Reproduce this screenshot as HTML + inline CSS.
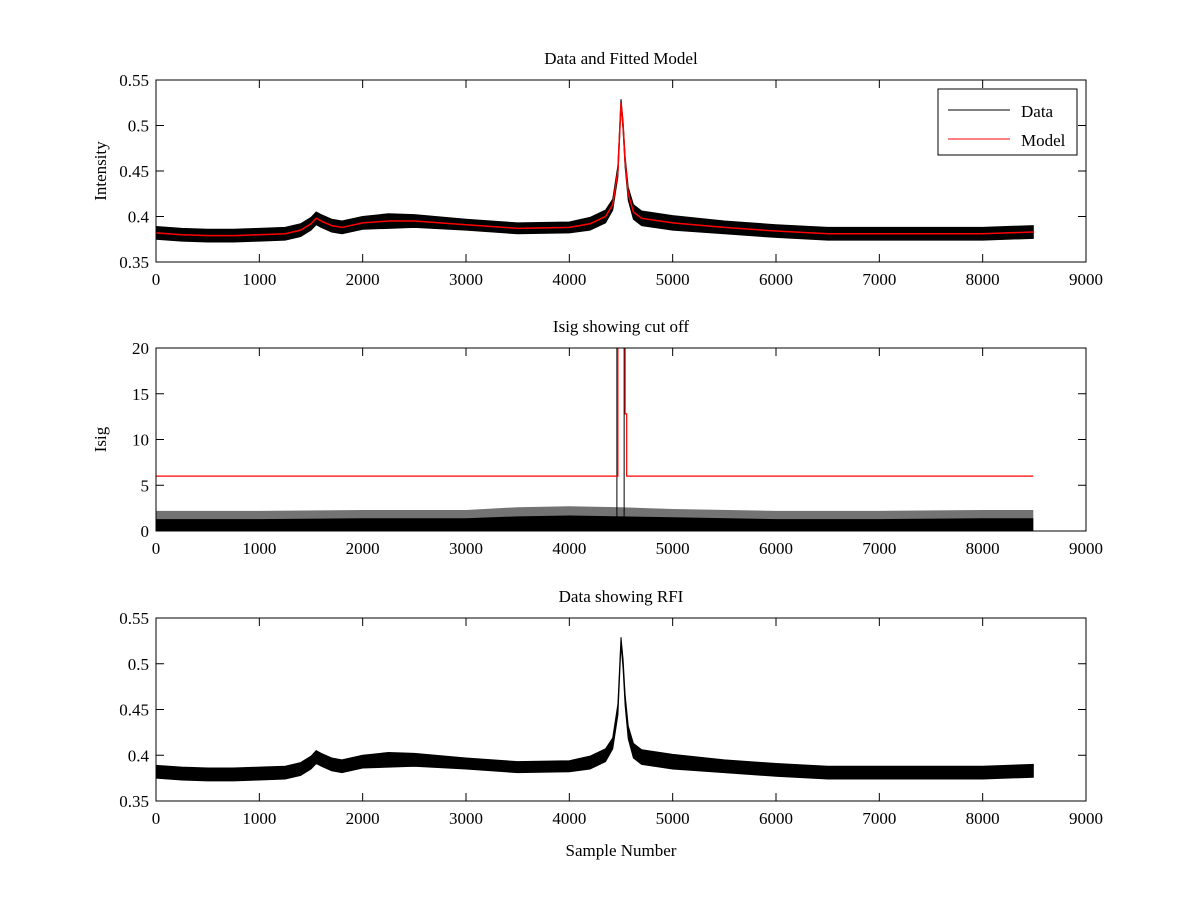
<!DOCTYPE html>
<html><head><meta charset="utf-8"><style>
body{margin:0;background:#fff;}
svg text{font-family:"Liberation Serif",serif;font-size:17px;fill:#000;}
</style></head><body>
<svg id="fig" width="1200" height="900" xmlns="http://www.w3.org/2000/svg">
<rect width="1200" height="900" fill="#fff"/>
</svg>
<script>
const xs=[0,250,500,750,1000,1250,1400,1500,1550,1600,1700,1800,2000,2250,2500,3000,3500,4000,4200,4350,4420,4470,4500,4520,4540,4570,4620,4700,5000,5500,6000,6500,7000,7500,8000,8490];
const model=[0.382,0.380,0.379,0.379,0.380,0.381,0.385,0.392,0.398,0.395,0.390,0.388,0.393,0.395,0.395,0.391,0.387,0.388,0.392,0.400,0.413,0.45,0.525,0.50,0.46,0.425,0.405,0.398,0.393,0.388,0.384,0.381,0.381,0.381,0.381,0.383];
const halfW=[0.007,0.007,0.007,0.007,0.007,0.007,0.007,0.007,0.007,0.007,0.007,0.007,0.007,0.008,0.007,0.006,0.006,0.006,0.007,0.007,0.006,0.006,0.004,0.005,0.006,0.007,0.008,0.008,0.008,0.007,0.007,0.007,0.007,0.007,0.007,0.007];
const isigX=[0,1000,2000,3000,3500,4000,4500,5000,6000,7000,8000,8490];
const isigUpper=[2.2,2.2,2.3,2.3,2.6,2.7,2.6,2.4,2.2,2.2,2.3,2.3];
const isigCore=[1.3,1.3,1.4,1.4,1.6,1.7,1.6,1.5,1.3,1.3,1.4,1.4];
const cutX=[0,4470,4470,4540,4540,4555,4555,8490];
const cutY=[6,6,25,25,12.8,12.8,6,6];
const xTicks=[0,1000,2000,3000,4000,5000,6000,7000,8000,9000];
const yTicksI=[0.35,0.4,0.45,0.5,0.55];
const yTicksS=[0,5,10,15,20];

const svg=document.getElementById('fig');
const NS='http://www.w3.org/2000/svg';
function mk(t,a,p){const e=document.createElementNS(NS,t);for(const k in a)e.setAttribute(k,a[k]);(p||svg).appendChild(e);return e;}
const X0=156,X1=1086;
const sx=v=>X0+(v/9000)*(X1-X0);

function axes(name,top,bot,ymin,ymax,yt,title,ylab,fmt){
  const g=mk('g',{});
  
  
  const sy=v=>bot-(v-ymin)/(ymax-ymin)*(bot-top);
  const cid='c'+name;
  const cp=mk('clipPath',{id:cid},g);mk('rect',{x:X0,y:top,width:X1-X0,height:bot-top},cp);
  const plot=mk('g',{'clip-path':'url(#'+cid+')'},g);
  mk('rect',{x:X0,y:top,width:X1-X0,height:bot-top,fill:'none',stroke:'#000','stroke-width':1},g);
  xTicks.forEach(v=>{const x=sx(v);
    mk('line',{x1:x,y1:bot,x2:x,y2:bot-8,stroke:'#000'},g);mk('line',{x1:x,y1:top,x2:x,y2:top+8,stroke:'#000'},g);
    const t=mk('text',{x:x,y:bot+23,'text-anchor':'middle'},g);t.textContent=v;
    
    });
  yt.forEach(v=>{const y=sy(v);
    mk('line',{x1:X0,y1:y,x2:X0+8,y2:y,stroke:'#000'},g);mk('line',{x1:X1,y1:y,x2:X1-8,y2:y,stroke:'#000'},g);
    const t=mk('text',{x:X0-7,y:y+6,'text-anchor':'end'},g);t.textContent=fmt(v);
    
    });
  const tt=mk('text',{x:(X0+X1)/2,y:top-16,'text-anchor':'middle'},g);tt.textContent=title;
  
  
  const yl=mk('text',{x:0,y:0,'text-anchor':'middle',transform:`translate(${X0-50},${(top+bot)/2}) rotate(-90)`},g);yl.textContent=ylab;
  
  
  return {plot,sy};
}
function band(plot,sy,name){
  let up='',lo='';
  xs.forEach((v,i)=>{up+=(i?'L':'M')+sx(v)+','+sy(model[i]+halfW[i]);});
  for(let i=xs.length-1;i>=0;i--){lo+='L'+sx(xs[i])+','+sy(model[i]-halfW[i]);}
  const p=mk('path',{d:up+lo+'Z',fill:'#000',stroke:'#000','stroke-width':1},plot);
  
  
}
const fmt2=v=>v===0.4?'0.4':v===0.5?'0.5':v.toFixed(2);
const a1=axes('data-model-axes',80,262,0.35,0.55,yTicksI,'Data and Fitted Model','Intensity',fmt2);
band(a1.plot,a1.sy,'data-series');
let d='';xs.forEach((v,i)=>{d+=(i?'L':'M')+sx(v)+','+a1.sy(model[i]);});
const ml=mk('path',{d:d,fill:'none',stroke:'#f00','stroke-width':1.5},a1.plot);


const lg=mk('g',{});


mk('rect',{x:938,y:89,width:139,height:66,fill:'#fff',stroke:'#000'},lg);
mk('line',{x1:948,y1:110,x2:1010,y2:110,stroke:'#000'},lg);
mk('line',{x1:948,y1:139,x2:1010,y2:139,stroke:'#f00'},lg);
const l1=mk('text',{x:1021,y:117},lg);l1.textContent='Data';


const l2=mk('text',{x:1021,y:146},lg);l2.textContent='Model';


const a2=axes('isig-axes',348,531,0,20,yTicksS,'Isig showing cut off','Isig',v=>String(v));
let u='';isigX.forEach((v,i)=>{u+=(i?'L':'M')+sx(v)+','+a2.sy(isigUpper[i]);});
u+='L'+sx(8490)+','+a2.sy(0)+'L'+sx(0)+','+a2.sy(0)+'Z';
const ib=mk('path',{d:u,fill:'#000','fill-opacity':0.55},a2.plot);


let c='';isigX.forEach((v,i)=>{c+=(i?'L':'M')+sx(v)+','+a2.sy(isigCore[i]);});
c+='L'+sx(8490)+','+a2.sy(0)+'L'+sx(0)+','+a2.sy(0)+'Z';
const ic=mk('path',{d:c,fill:'#000'},a2.plot);


[4470,4540].forEach(v=>{const s=mk('line',{x1:sx(v)-1,y1:a2.sy(0),x2:sx(v)-1,y2:a2.sy(20),stroke:'#000'},a2.plot);
  
  });
let cd='';cutX.forEach((v,i)=>{cd+=(i?'L':'M')+sx(v)+','+a2.sy(cutY[i]);});
const cl=mk('path',{d:cd,fill:'none',stroke:'#f00','stroke-width':1.2},a2.plot);


const a3=axes('rfi-axes',618,801,0.35,0.55,yTicksI,'Data showing RFI','',fmt2);
band(a3.plot,a3.sy,'rfi-data-series');
const xl=mk('text',{x:(X0+X1)/2,y:856,'text-anchor':'middle'});xl.textContent='Sample Number';


</script>
</body></html>
